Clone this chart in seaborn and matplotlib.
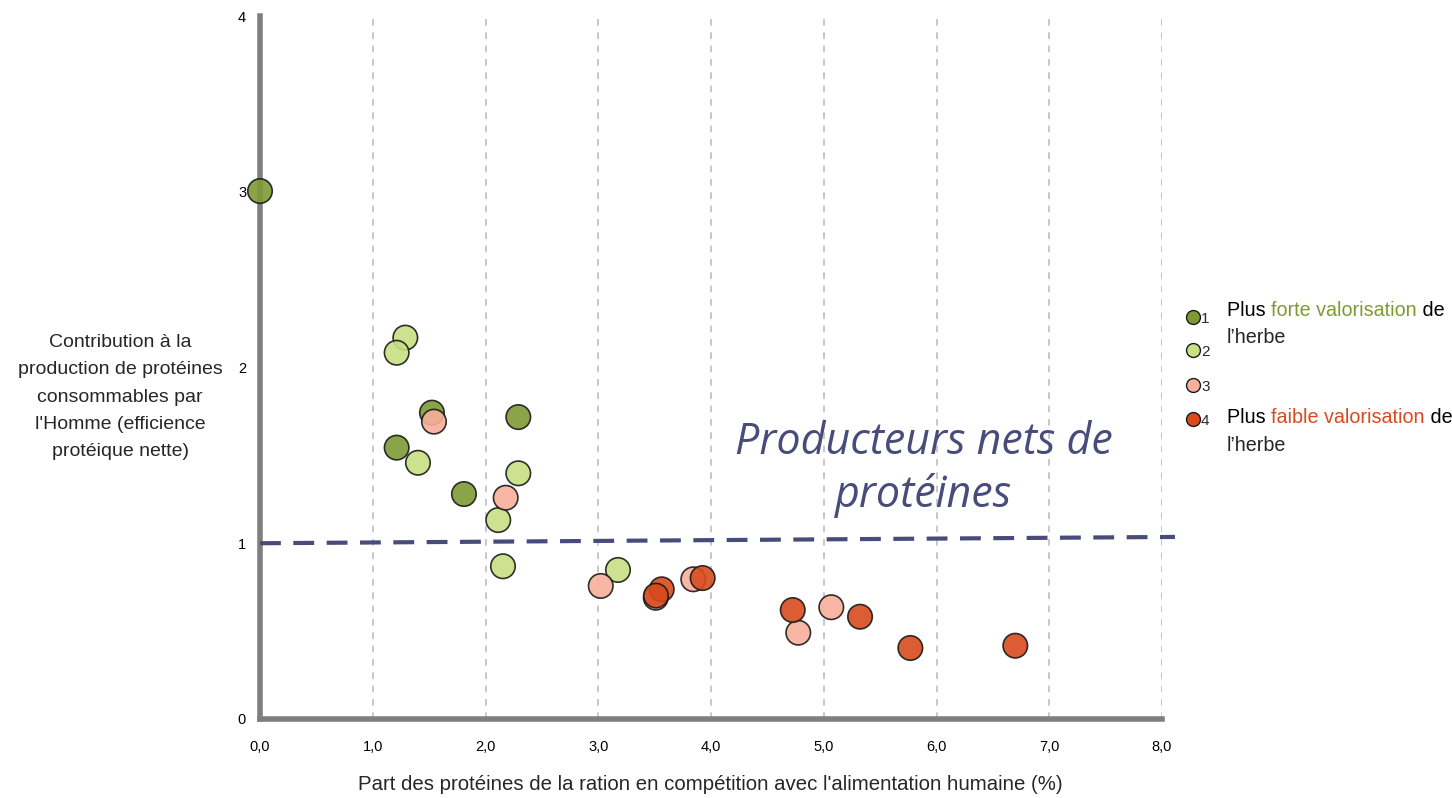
import matplotlib
matplotlib.use("Agg")
import matplotlib.pyplot as plt
import seaborn as sns
import pandas as pd
from matplotlib import font_manager

# ---- data ----
g1_x = [0.0, 1.525, 1.212, 1.809, 2.291]
g1_y = [3.004, 1.743, 1.544, 1.280, 1.718]
g2_x = [1.289, 1.212, 1.401, 2.291, 2.113, 2.155, 3.175]
g2_y = [2.170, 2.084, 1.458, 1.398, 1.132, 0.869, 0.848]
g3_x = [1.543, 2.179, 3.022, 3.843, 4.774, 5.067, 3.51]
g3_y = [1.692, 1.259, 0.757, 0.795, 0.491, 0.636, 0.690]
g4_x = [3.563, 3.512, 3.926, 4.725, 5.322, 5.768, 6.699]
g4_y = [0.738, 0.702, 0.802, 0.620, 0.582, 0.404, 0.417]
groups = ["1", "2", "3", "4"]
colors = ["#7F9A35", "#C8DF82", "#F8AF9B", "#D94A1E"]
line_x = [0.0, 8.115]
line_y = [1.0, 1.036]
x_ticks = [0, 1, 2, 3, 4, 5, 6, 7, 8]
x_ticklabels = ["0,0", "1,0", "2,0", "3,0", "4,0", "5,0", "6,0", "7,0", "8,0"]
y_ticks = [0, 1, 2, 3, 4]
y_ticklabels = ["0", "1", "2", "3", "4"]

rows = []
for g, xs, ys in zip(groups, [g1_x, g2_x, g3_x, g4_x], [g1_y, g2_y, g3_y, g4_y]):
    for a, b in zip(xs, ys):
        rows.append({"x": a, "y": b, "g": g})
df = pd.DataFrame(rows)

sns.set_theme(style="white")
plt.rcParams["font.family"] = ["Liberation Sans", "DejaVu Sans"]

names = {f.name for f in font_manager.fontManager.ttflist}
narrow = "Liberation Sans Narrow" in names

fig = plt.figure(figsize=(14.52, 7.98), dpi=100)
ax = fig.add_axes([260 / 1452, 1 - 719 / 798, 902 / 1452, 703 / 798])

for xt in x_ticks[1:]:
    ax.axvline(xt, color="#BFBFBF", lw=1.2, ls=(0, (4, 4)), zorder=0)

sns.scatterplot(data=df, x="x", y="y", hue="g", palette=dict(zip(groups, colors)),
                s=310, edgecolor="#1a1a1a", linewidth=1.2, alpha=0.9,
                legend=False, ax=ax, clip_on=False, zorder=5)

ax.plot(line_x, line_y, color="#474C7A", lw=3, ls=(0, (5, 3)), clip_on=False, zorder=4)

ax.set_xlim(0, 8)
ax.set_ylim(0, 4)
ax.set_xticks(x_ticks)
ax.set_xticklabels(x_ticklabels)
ax.set_yticks(y_ticks)
ax.set_yticklabels(y_ticklabels)
ax.tick_params(axis="both", labelsize=10.5, colors="#7F7F7F", labelcolor="black",
               length=4, width=4, direction="out")
ax.tick_params(axis="x", pad=11)
ax.tick_params(axis="y", pad=6)
for s in ["top", "right"]:
    ax.spines[s].set_visible(False)
for s in ["left", "bottom"]:
    ax.spines[s].set_color("#7F7F7F")
    ax.spines[s].set_linewidth(4)
    ax.spines[s].set_zorder(3)

ax.set_xlabel("")
ax.set_ylabel("")
fig.text(710 / 1452, 1 - 785 / 798, "Part des protéines de la ration en compétition avec l'alimentation humaine (%)",
         ha="center", va="center", fontsize=14.7)
ylabel_txt = "Contribution à la\nproduction de protéines\nconsommables par\nl'Homme (efficience\nprotéique nette)"
if narrow:
    fig.text(120 / 1452, 1 - 397 / 798, ylabel_txt,
             ha="center", va="center", fontsize=17, linespacing=1.5,
             family=["Liberation Sans Narrow", "Liberation Sans"])
else:
    fig.text(120 / 1452, 1 - 397 / 798, ylabel_txt,
             ha="center", va="center", fontsize=14, linespacing=1.8)

ax.text(5.885, 1.42, "Producteurs nets de\nprotéines", ha="center", va="center",
        fontsize=31, style="italic", color="#474C7A", family="Open Sans", linespacing=1.25)

# legend
leg_y = [317, 350, 385, 419]
for g, c, yy in zip(groups, colors, leg_y):
    fig.lines.append(plt.Line2D([1193 / 1452], [1 - yy / 798], marker="o", ms=10, mfc=c,
                                mec="#1a1a1a", mew=1, transform=fig.transFigure, ls=""))
    fig.text(1201 / 1452, 1 - (yy + 2) / 798, g, fontsize=11, va="center", ha="left")

def colored_line(x, y, parts):
    t = None
    for txt, col in parts:
        if t is None:
            t = fig.text(x, y, txt, color=col, fontsize=14.2, va="center", ha="left")
        else:
            t = ax.annotate(txt, xycoords=t, xy=(1, 0), va="bottom", ha="left",
                            color=col, fontsize=14.2)
    return t

colored_line(1227 / 1452, 1 - 310 / 798, [("Plus ", "black"), ("forte valorisation", "#7F9A35"), (" de", "black")])
fig.text(1227 / 1452, 1 - 338 / 798, "l’herbe", fontsize=14.2, va="center", ha="left")
colored_line(1227 / 1452, 1 - 417 / 798, [("Plus ", "black"), ("faible valorisation", "#D94A1E"), (" de", "black")])
fig.text(1227 / 1452, 1 - 445 / 798, "l’herbe", fontsize=14.2, va="center", ha="left")

fig.savefig("out.png", dpi=100, facecolor="white")
